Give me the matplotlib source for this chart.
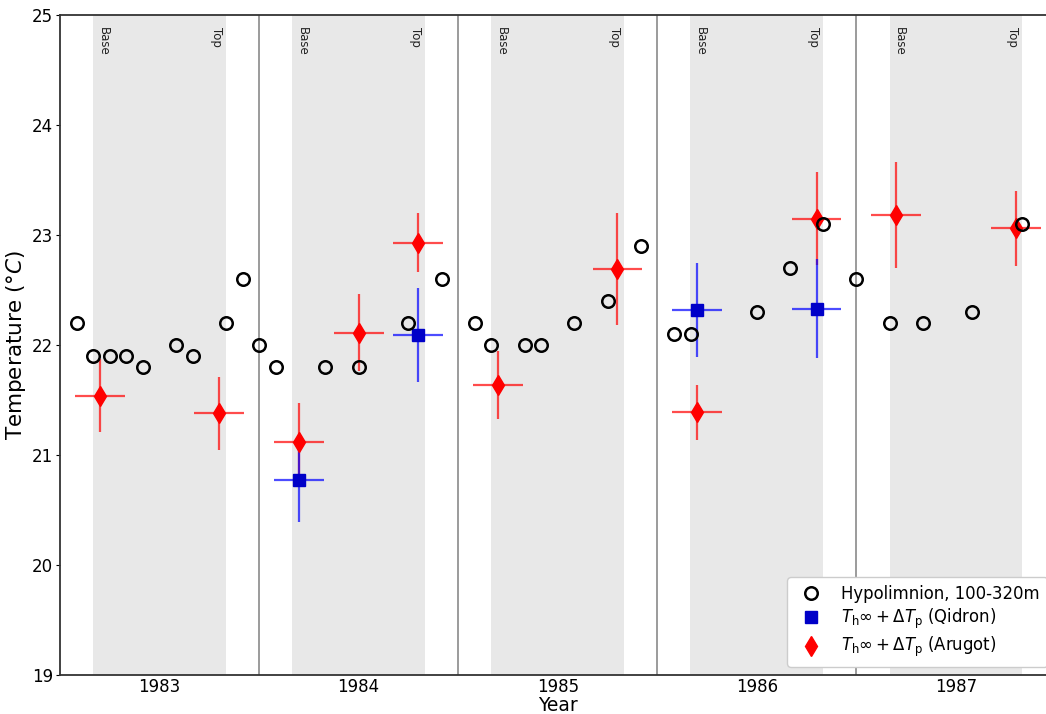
import matplotlib
matplotlib.use("Agg")
import matplotlib.pyplot as plt
import numpy as np

# Hypolimnion observations (year fraction, temperature)
hypo_x = [1982.583, 1982.667, 1982.750, 1982.833, 1982.917, 1983.083, 1983.167,
          1983.333, 1983.417, 1983.500, 1983.583, 1983.833, 1984.000, 1984.250,
          1984.417, 1984.583, 1984.667, 1984.833, 1984.917, 1985.083, 1985.250,
          1985.417, 1985.583, 1985.667, 1986.000, 1986.167, 1986.333, 1986.500,
          1986.667, 1986.833, 1987.083, 1987.333]
hypo_t = [22.2, 21.9, 21.9, 21.9, 21.8, 22.0, 21.9,
          22.2, 22.6, 22.0, 21.8, 21.8, 21.8, 22.2,
          22.6, 22.2, 22.0, 22.0, 22.0, 22.2, 22.4,
          22.9, 22.1, 22.1, 22.3, 22.7, 23.1, 22.6,
          22.2, 22.2, 22.3, 23.1]

# Qidron estimates
qid_x = [1983.7, 1984.3, 1985.7, 1986.3]
qid_t = [20.77, 22.09, 22.32, 22.33]
qid_err = [0.38, 0.43, 0.43, 0.45]

# Arugot estimates
aru_x = [1982.7, 1983.3, 1983.7, 1984.0, 1984.3, 1984.7, 1985.3, 1985.7, 1986.3, 1986.7, 1987.3]
aru_t = [21.54, 21.38, 21.12, 22.11, 22.93, 21.64, 22.69, 21.39, 23.15, 23.18, 23.06]
aru_err = [0.33, 0.33, 0.35, 0.35, 0.27, 0.31, 0.51, 0.25, 0.42, 0.48, 0.34]
xerr_months = 0.125

years = [1983, 1984, 1985, 1986, 1987]
year_labels = ["1983", "1984", "1985", "1986", "1987"]

W, H = 1046, 714
fig = plt.figure(figsize=(W / 100, H / 100), dpi=100)
ax = fig.add_axes([60 / W, 39 / H, 995.5 / W, 660 / H])

ax.set_xlim(1982.5, 1987.5)
ax.set_ylim(19, 25)

for y in years:
    ax.axvspan(y - 1 / 3, y + 1 / 3, color="#e8e8e8", zorder=0, lw=0)
    ax.text(y - 0.284, 24.89, "Base", rotation=270, ha="center", va="top",
            fontsize=8.5, color="#222222", zorder=1)
    ax.text(y + 0.286, 24.89, "Top", rotation=270, ha="center", va="top",
            fontsize=8.5, color="#222222", zorder=1)
for y in years[:-1]:
    ax.axvline(y + 0.5, color="#808080", lw=1.1, zorder=1)

ax.errorbar(aru_x, aru_t, yerr=aru_err, xerr=xerr_months, fmt="none",
            ecolor=(1, 0, 0, 0.7), elinewidth=1.6, capsize=0, zorder=3)
ax.errorbar(qid_x, qid_t, yerr=qid_err, xerr=xerr_months, fmt="none",
            ecolor=(0, 0, 1, 0.7), elinewidth=1.6, capsize=0, zorder=3)

h1, = ax.plot(hypo_x, hypo_t, "o", ms=9, mfc="none", mec="black", mew=1.8,
              zorder=6, label="Hypolimnion, 100-320m")
h2, = ax.plot(qid_x, qid_t, "s", ms=8, color="#0000c8", zorder=5,
              label=r"$T_\mathrm{h}\infty + \Delta T_\mathrm{p}$ (Qidron)")
h3, = ax.plot(aru_x, aru_t, "d", ms=10, color="red", zorder=4,
              label=r"$T_\mathrm{h}\infty + \Delta T_\mathrm{p}$ (Arugot)")

ax.set_xticks(years)
ax.set_xticklabels(year_labels)
ax.tick_params(axis="x", length=0, labelsize=12, pad=2)
ax.tick_params(axis="y", length=3, labelsize=12, pad=2)
ax.set_yticks([19, 20, 21, 22, 23, 24, 25])

ax.set_xlabel("Year", fontsize=13.5, labelpad=0)
ax.set_ylabel(r"Temperature ($\degree C$)", fontsize=15.5, labelpad=3)

for s in ax.spines.values():
    s.set_color("#333333")
    s.set_linewidth(1.3)

ax.legend(handles=[h1, h2, h3], loc="lower right", fontsize=11.9, framealpha=1,
          labelspacing=0.25, borderpad=0.45)

fig.savefig("out.png", dpi=100)
